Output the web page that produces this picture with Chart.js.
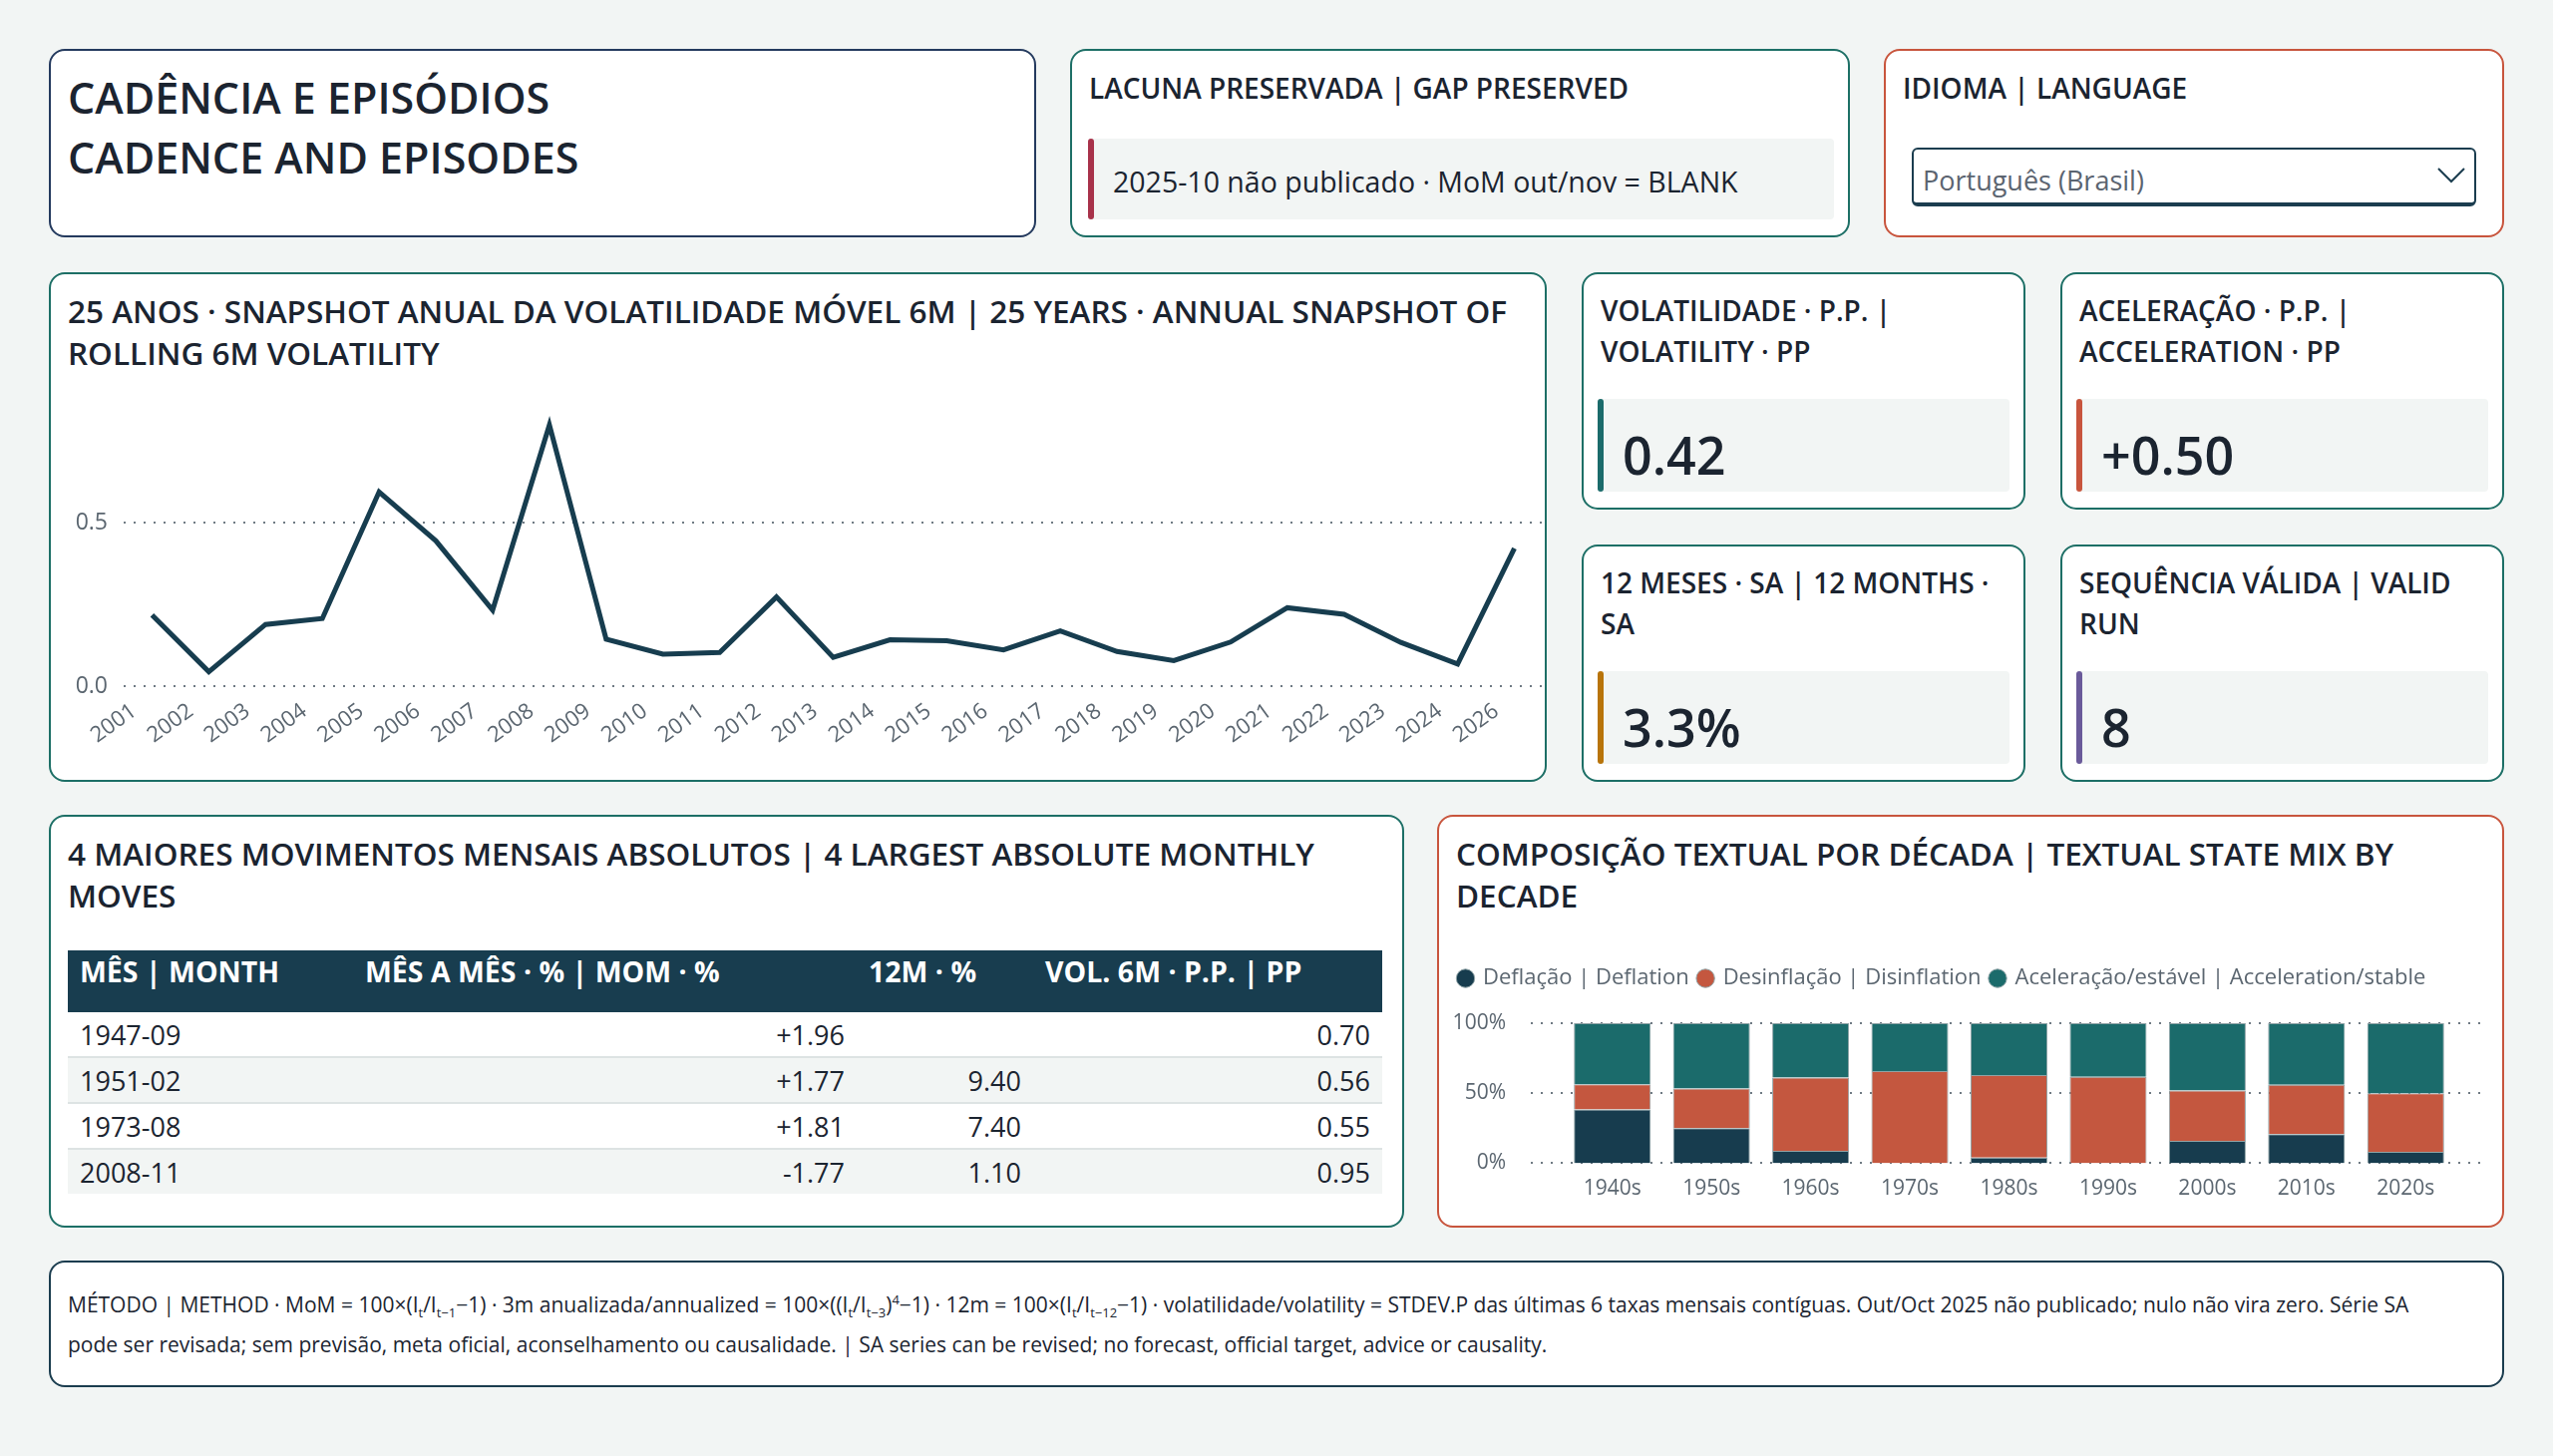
<!DOCTYPE html>
<html lang="pt-BR">
<head>
<meta charset="utf-8">
<title>Cadência e episódios | Cadence and episodes</title>
<script src="https://cdn.jsdelivr.net/npm/chart.js@4.4.1/dist/chart.umd.min.js"></script>
<style>
  body { margin: 0; background: #f2f5f4; font-family: "Open Sans", "Noto Sans", sans-serif; color: #1b2430; }
  #page { position: relative; width: 2560px; height: 1460px; }
  .card { position: absolute; box-sizing: border-box; background: #fff; border: 2px solid #1d6f66; border-radius: 16px; }
  .navy { border-color: #243a5e; }
  .red { border-color: #c8553d; }
  .ink { border-color: #1b3d4f; }
  .head { position: absolute; left: 17px; top: 16px; right: 17px; font-size: 31.5px; font-weight: 600; line-height: 42px; }
  .small { font-size: 28px; line-height: 41px; }
  .big { font-size: 43px; line-height: 60px; top: 17px; }
  .box { position: absolute; background: #f2f5f4; border-radius: 4px; }
  .box::before { content: ""; position: absolute; left: 0; top: 0; bottom: 0; width: 6px; border-radius: 3px; background: var(--bar); }
  .gaptext { position: absolute; left: 25px; top: 24px; font-size: 28.5px; white-space: nowrap; }
  .kpi { position: absolute; left: 25px; top: 20px; font-size: 52px; font-weight: 600; }
  .drop { position: absolute; left: 26px; top: 97px; width: 566px; height: 59px; box-sizing: border-box; border: 2px solid #1b3d4f; border-bottom-width: 4px; border-radius: 6px; }
  .drop span { position: absolute; left: 9px; top: 12px; font-size: 27px; color: #5b6470; }
  .drop svg { position: absolute; right: 8px; top: 16px; }
  table { position: absolute; left: 17px; top: 134px; width: 1318px; border-collapse: collapse; font-size: 27px; }
  th { background: #183d4f; color: #fff; font-size: 28.5px; font-weight: 700; text-align: left; vertical-align: top; height: 60px; padding: 2px 12px 0; }
  td { height: 44px; padding: 0 12px; border-top: 2px solid #dde3e3; }
  td.n { text-align: right; }
  tr.alt td { background: #f2f5f4; }
  tbody tr:first-child td { border-top: none; }
  .note { position: absolute; left: 17px; top: 22px; right: 60px; font-size: 21px; line-height: 40px; }
  .note sub, .note sup { font-size: 13px; line-height: 0; }
  .wrap { position: absolute; }
</style>
</head>
<body>
<div id="page">
  <div class="card navy" style="left:49px;top:49px;width:990px;height:189px">
    <div class="head big">CADÊNCIA E EPISÓDIOS<br>CADENCE AND EPISODES</div>
  </div>
  <div class="card" style="left:1073px;top:49px;width:782px;height:189px">
    <div class="head small" style="top:17px">LACUNA PRESERVADA | GAP PRESERVED</div>
    <div class="box" style="left:16px;top:88px;width:748px;height:81px;--bar:#a8324a">
      <div class="gaptext">2025-10 não publicado · MoM out/nov = BLANK</div>
    </div>
  </div>
  <div class="card red" style="left:1889px;top:49px;width:622px;height:189px">
    <div class="head small" style="top:17px">IDIOMA | LANGUAGE</div>
    <div class="drop"><span>Português (Brasil)</span>
      <svg width="30" height="20" viewBox="0 0 30 20"><polyline points="2,3 15,16 28,3" fill="none" stroke="#1b3d4f" stroke-width="2"/></svg>
    </div>
  </div>

  <div class="card" style="left:49px;top:273px;width:1502px;height:511px">
    <div class="head">25 ANOS · SNAPSHOT ANUAL DA VOLATILIDADE MÓVEL 6M | 25 YEARS · ANNUAL SNAPSHOT OF ROLLING 6M VOLATILITY</div>
    <div class="wrap" style="left:10px;top:105px;width:1486px;height:389px"><canvas id="volChart"></canvas></div>
  </div>

  <div class="card" style="left:1586px;top:273px;width:445px;height:238px">
    <div class="head small">VOLATILIDADE · P.P. | VOLATILITY · PP</div>
    <div class="box" style="left:14px;top:125px;width:413px;height:93px;--bar:#1b6b6b"><div class="kpi" id="kpiVol"></div></div>
  </div>
  <div class="card" style="left:2066px;top:273px;width:445px;height:238px">
    <div class="head small">ACELERAÇÃO · P.P. | ACCELERATION · PP</div>
    <div class="box" style="left:14px;top:125px;width:413px;height:93px;--bar:#c8553d"><div class="kpi" id="kpiAcc"></div></div>
  </div>
  <div class="card" style="left:1586px;top:546px;width:445px;height:238px">
    <div class="head small">12 MESES · SA | 12 MONTHS · SA</div>
    <div class="box" style="left:14px;top:125px;width:413px;height:93px;--bar:#b8740a"><div class="kpi" id="kpi12m"></div></div>
  </div>
  <div class="card" style="left:2066px;top:546px;width:445px;height:238px">
    <div class="head small">SEQUÊNCIA VÁLIDA | VALID RUN</div>
    <div class="box" style="left:14px;top:125px;width:413px;height:93px;--bar:#6a5a9a"><div class="kpi" id="kpiRun"></div></div>
  </div>

  <div class="card" style="left:49px;top:817px;width:1359px;height:414px">
    <div class="head">4 MAIORES MOVIMENTOS MENSAIS ABSOLUTOS | 4 LARGEST ABSOLUTE MONTHLY MOVES</div>
    <table>
      <thead><tr><th style="width:262px">MÊS | MONTH</th><th style="width:481px">MÊS A MÊS · % | MOM · %</th><th style="width:153px">12M · %</th><th>VOL. 6M · P.P. | PP</th></tr></thead>
      <tbody id="moves"></tbody>
    </table>
  </div>

  <div class="card red" style="left:1441px;top:817px;width:1070px;height:414px">
    <div class="head">COMPOSIÇÃO TEXTUAL POR DÉCADA | TEXTUAL STATE MIX BY DECADE</div>
    <div class="wrap" style="left:10px;top:141px;width:1046px;height:268px"><canvas id="mixChart"></canvas></div>
  </div>

  <div class="card ink" style="left:49px;top:1264px;width:2462px;height:127px">
    <div class="note">MÉTODO | METHOD · MoM = 100×(I<sub>t</sub>/I<sub>t−1</sub>−1) · 3m anualizada/annualized = 100×((I<sub>t</sub>/I<sub>t−3</sub>)<sup>4</sup>−1) · 12m = 100×(I<sub>t</sub>/I<sub>t−12</sub>−1) · volatilidade/volatility = STDEV.P das últimas 6 taxas mensais contíguas. Out/Oct 2025 não publicado; nulo não vira zero. Série SA pode ser revisada; sem previsão, meta oficial, aconselhamento ou causalidade. | SA series can be revised; no forecast, official target, advice or causality.</div>
  </div>
</div>

<script>
// annual snapshot of rolling 6m volatility (p.p.)
const years = ["2001", "2002", "2003", "2004", "2005", "2006", "2007", "2008", "2009", "2010", "2011", "2012", "2013",
  "2014", "2015", "2016", "2017", "2018", "2019", "2020", "2021", "2022", "2023", "2024", "2026"];
const volSnapshot = [0.218, 0.044, 0.189, 0.207, 0.595, 0.445, 0.233, 0.80, 0.144, 0.098, 0.103, 0.273, 0.088,
  0.142, 0.139, 0.111, 0.169, 0.106, 0.078, 0.135, 0.24, 0.22, 0.134, 0.068, 0.422];
const volTicks = [0, 0.5];

// textual state mix by decade (% of months)
const decades = ["1940s", "1950s", "1960s", "1970s", "1980s", "1990s", "2000s", "2010s", "2020s"];
const deflationShare = [38.4, 25.1, 8.9, 0, 4.1, 0, 15.9, 20.8, 8.2];
const disinflationShare = [17.9, 28.3, 52.2, 65.9, 58.9, 61.8, 36.0, 35.2, 41.8];
const accelerationShare = [43.7, 46.6, 38.9, 34.1, 37.0, 38.2, 48.1, 44.0, 50.0];
const shareTicks = [0, 50, 100];

// 4 largest absolute monthly moves
const moveMonths = ["1947-09", "1951-02", "1973-08", "2008-11"];
const moveMoM = ["+1.96", "+1.77", "+1.81", "-1.77"];
const move12m = ["", "9.40", "7.40", "1.10"];
const moveVol = ["0.70", "0.56", "0.55", "0.95"];

// kpi cards
const kpiVol = "0.42";
const kpiAcc = "+0.50";
const kpi12m = "3.3%";
const kpiRun = "8";

document.getElementById("kpiVol").textContent = kpiVol;
document.getElementById("kpiAcc").textContent = kpiAcc;
document.getElementById("kpi12m").textContent = kpi12m;
document.getElementById("kpiRun").textContent = kpiRun;

const tbody = document.getElementById("moves");
moveMonths.forEach((m, i) => {
  const tr = document.createElement("tr");
  if (i % 2 === 1) tr.className = "alt";
  tr.innerHTML = `<td>${m}</td><td class="n">${moveMoM[i]}</td><td class="n">${move12m[i]}</td><td class="n">${moveVol[i]}</td>`;
  tbody.appendChild(tr);
});

Chart.defaults.font.family = "'Open Sans', 'Noto Sans', sans-serif";
Chart.defaults.color = "#5b6670";
Chart.defaults.animation = false;

const dotted = { color: "#6f7a83", lineWidth: 2, drawTicks: false };

// line chart
new Chart(document.getElementById("volChart"), {
  type: "line",
  data: {
    labels: years,
    datasets: [{
      data: volSnapshot,
      borderColor: "#173d4f",
      borderWidth: 5,
      pointRadius: 0,
      tension: 0,
    }],
  },
  options: {
    responsive: true,
    maintainAspectRatio: false,
    devicePixelRatio: 1,
    plugins: { legend: { display: false }, tooltip: { enabled: false } },
    scales: {
      y: {
        min: 0,
        max: 0.85,
        afterBuildTicks: (s) => { s.ticks = volTicks.map((v) => ({ value: v })); },
        afterFit: (s) => { s.width = 63; },
        ticks: { font: { size: 23 }, padding: 16, callback: (v) => v.toFixed(1) },
        grid: dotted,
        border: { display: false, dash: [2, 8] },
      },
      x: {
        offset: true,
        afterFit: (s) => { s.height = 81; },
        ticks: { font: { size: 22 }, minRotation: 36, maxRotation: 36, autoSkip: false, padding: 4, labelOffset: -18 },
        grid: { display: false },
        border: { display: false },
      },
    },
  },
});

// legend gets a bit more room under it
const legendGap = {
  id: "legendGap",
  beforeInit(chart) {
    const fit = chart.legend.fit;
    chart.legend.fit = function () {
      fit.bind(chart.legend)();
      this.height += 24;
    };
  },
};

// dotted gridlines run a little past the bars, like the original
const wideGrid = {
  id: "wideGrid",
  beforeDatasetsDraw(chart) {
    const { ctx, chartArea, scales } = chart;
    ctx.save();
    ctx.strokeStyle = "#6f7a83";
    ctx.lineWidth = 2;
    ctx.setLineDash([2, 8]);
    shareTicks.forEach((v) => {
      const y = Math.round(scales.y.getPixelForValue(v));
      ctx.beginPath();
      ctx.moveTo(chartArea.left - 32, y);
      ctx.lineTo(chartArea.right + 27, y);
      ctx.stroke();
    });
    ctx.restore();
  },
};

// 100% stacked bars
new Chart(document.getElementById("mixChart"), {
  type: "bar",
  data: {
    labels: decades,
    datasets: [
      { label: "Deflação | Deflation", data: deflationShare, backgroundColor: "#173c4e" },
      { label: "Desinflação | Disinflation", data: disinflationShare, backgroundColor: "#c4573f" },
      { label: "Aceleração/estável | Acceleration/stable", data: accelerationShare, backgroundColor: "#1b6b6b" },
    ],
  },
  options: {
    responsive: true,
    maintainAspectRatio: false,
    devicePixelRatio: 1,
    layout: { padding: { right: 37 } },
    datasets: { bar: { barPercentage: 0.775, categoryPercentage: 1, borderWidth: 1, borderColor: "#8fa3a6" } },
    plugins: {
      tooltip: { enabled: false },
      legend: {
        position: "top",
        align: "start",
        labels: { font: { size: 22 }, usePointStyle: true, pointStyle: "circle", boxWidth: 13, boxHeight: 13, padding: 10, color: "#5b6670" },
      },
    },
    scales: {
      y: {
        stacked: true,
        min: 0,
        max: 100,
        afterBuildTicks: (s) => { s.ticks = shareTicks.map((v) => ({ value: v })); },
        afterFit: (s) => { s.width = 114; },
        ticks: { font: { size: 21 }, padding: 49, callback: (v) => v + "%" },
        grid: { display: false },
        border: { display: false },
      },
      x: {
        stacked: true,
        afterFit: (s) => { s.height = 51; },
        ticks: { font: { size: 21 }, padding: 5 },
        grid: { display: false },
        border: { display: false },
      },
    },
  },
  plugins: [legendGap, wideGrid],
});
</script>
</body>
</html>
